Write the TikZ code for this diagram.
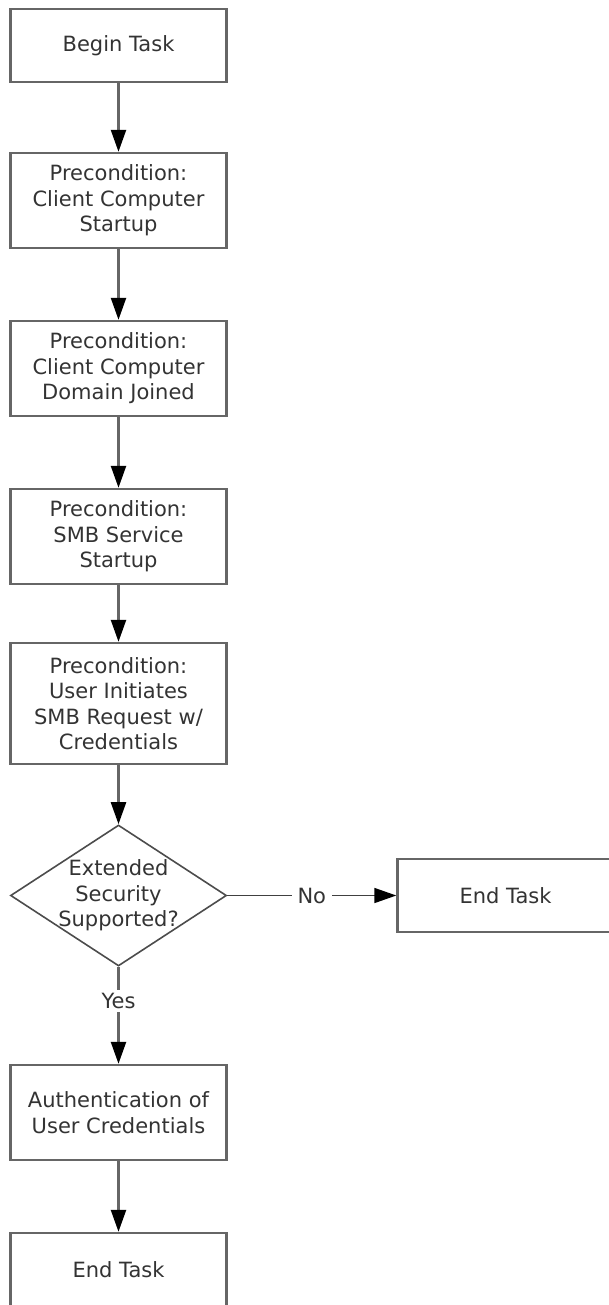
\documentclass[tikz,border=0pt]{standalone}
\usepackage{fontspec}
\setmainfont{DejaVu Sans}
\usetikzlibrary{arrows.meta,positioning,shapes.geometric}
\tikzstyle{task}=[
	rectangle,
	draw=black!60,
	line width=1.2pt,
	text=black!80,
	align=center,
	minimum width=108pt,
	minimum height=47.5pt,
	font=\fontsize{10.5pt}{12.75pt}\selectfont,
	node distance=35.3pt
]
\tikzstyle{terminal}=[
	task,
	minimum height=36.5pt
]
\tikzstyle{decision}=[
	diamond,
	draw=black!70,
	line width=0.8pt,
	inner sep=0pt,
	minimum width=108pt,
	minimum height=70.5pt
]
\tikzstyle{decisiontext}=[
	text=black!80,
	align=center,
	font=\fontsize{10.5pt}{12.75pt}\selectfont
]
\tikzstyle{flowline}=[
	<-,
	draw=black!60,
	line width=1.2pt,
	>={Triangle[length=11pt,width=7.5pt,color=black]}
]
\tikzstyle{answer}=[
	fill=white,
	text=black!80,
	inner xsep=3pt,
	inner ysep=1.5pt,
	font=\fontsize{10.5pt}{12.75pt}\selectfont
]

\begin{document}
\begin{tikzpicture}
\useasboundingbox (0,0) rectangle (304.5pt,-652.5pt);
\node [terminal] (BeginTask) at (59.25pt,-22.75pt) {Begin Task};
\node [task] (ClientStartup)[below=34.3pt of BeginTask] {Precondition:\\Client Computer\\Startup}
	edge [flowline] (BeginTask);
\node [task] (DomainJoined)[below=of ClientStartup] {Precondition:\\Client Computer\\Domain Joined}
	edge [flowline] (ClientStartup);
\node [task] (SmbStartup)[below=of DomainJoined] {Precondition:\\SMB Service\\Startup}
	edge [flowline] (DomainJoined);
\node [task, minimum height=60.5pt] (UserRequest)[below=28.3pt of SmbStartup] {Precondition:\\User Initiates\\SMB Request w/\\Credentials}
	edge [flowline] (SmbStartup);
\node [decision, label={[decisiontext]center:Extended\\Security\\Supported?}] (ExtSecurity)[below=29.5pt of UserRequest] {}
	edge [flowline] (UserRequest);
\node [terminal] (EndTaskNo)[right=84.5pt of ExtSecurity] {End Task}
	edge [flowline, draw=black!75, line width=0.8pt] node [answer] {No} (ExtSecurity);
\node [task] (AuthCredentials)[below=48.5pt of ExtSecurity] {Authentication of\\User Credentials}
	edge [flowline] node [answer, pos=0.65] {Yes} (ExtSecurity);
\node [terminal] (EndTaskYes)[below=of AuthCredentials] {End Task}
	edge [flowline] (AuthCredentials);
\end{tikzpicture}
\end{document}
